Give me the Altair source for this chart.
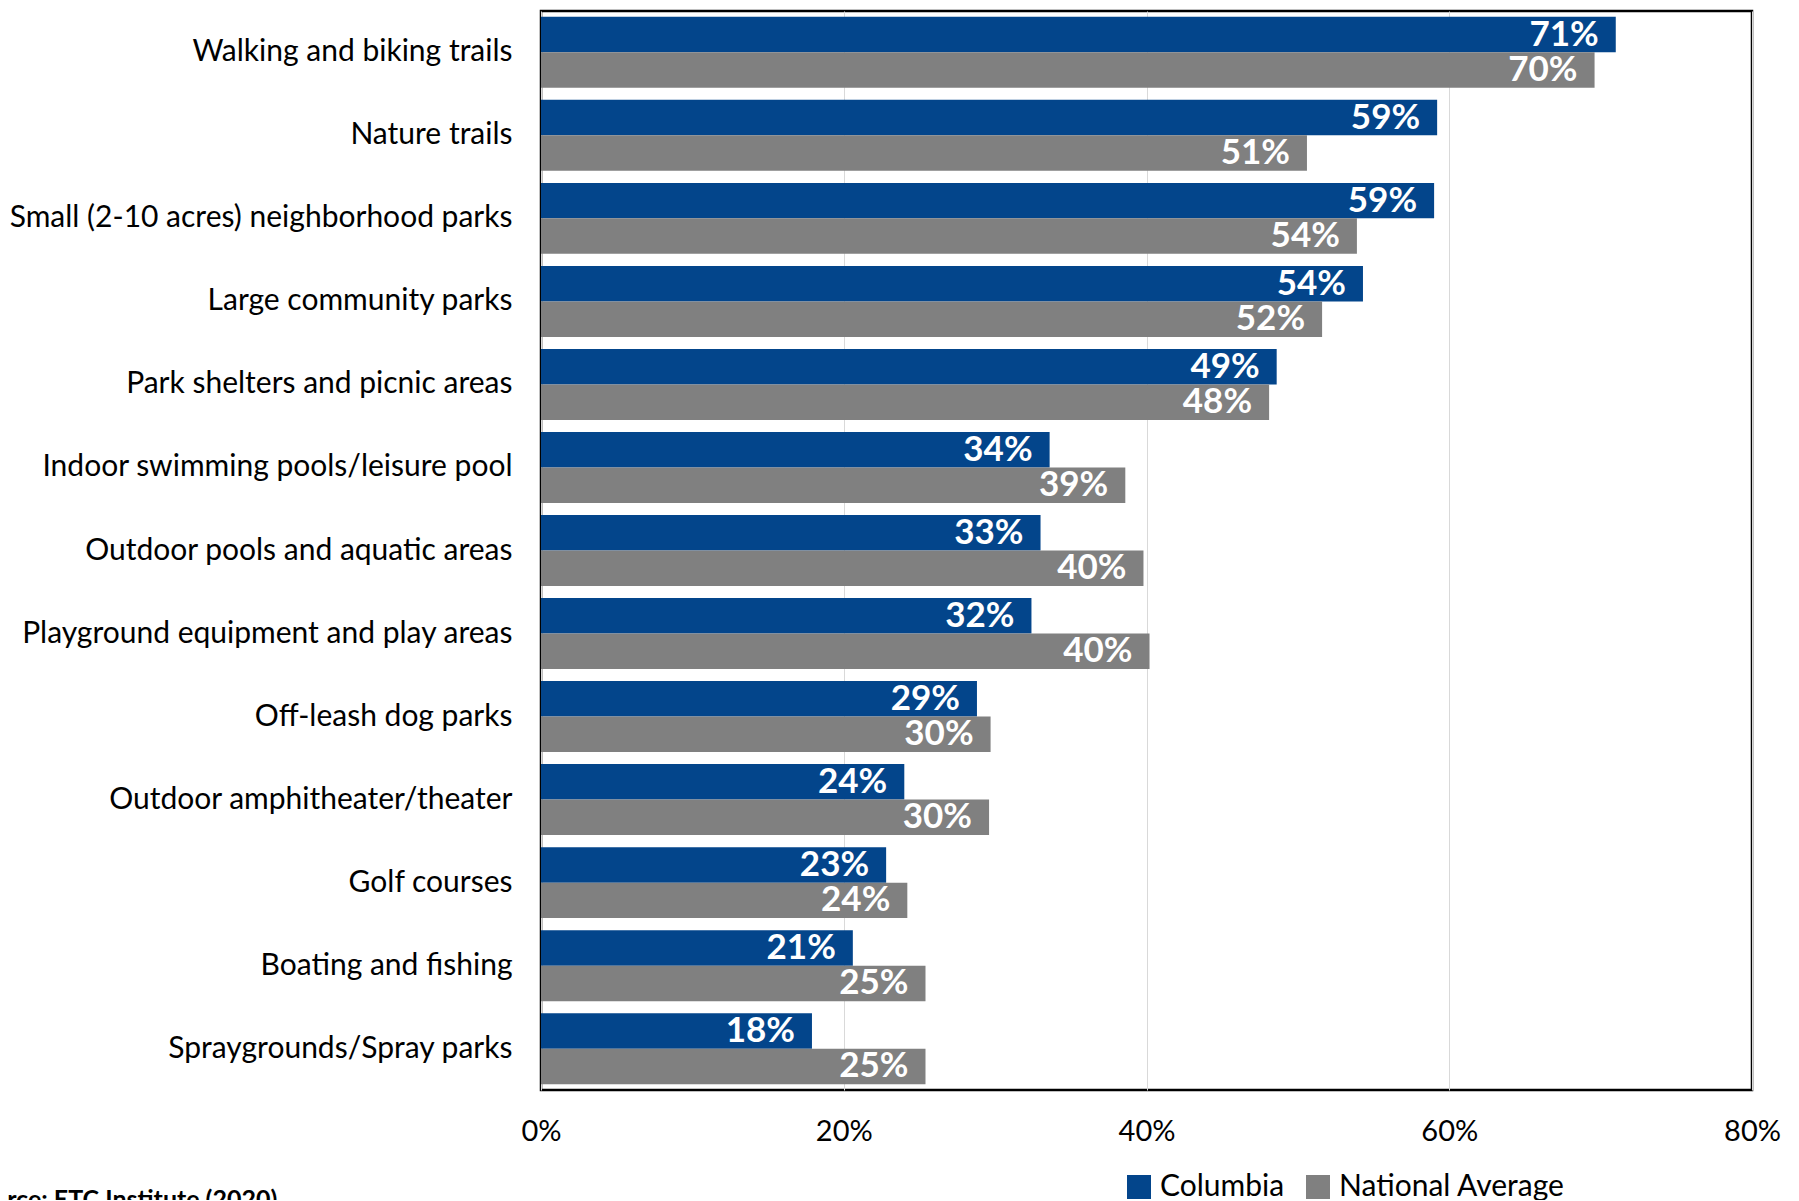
import altair as alt
import pandas as pd

categories = [
    "Walking and biking trails",
    "Nature trails",
    "Small (2-10 acres) neighborhood parks",
    "Large community parks",
    "Park shelters and picnic areas",
    "Indoor swimming pools/leisure pool",
    "Outdoor pools and aquatic areas",
    "Playground equipment and play areas",
    "Off-leash dog parks",
    "Outdoor amphitheater/theater",
    "Golf courses",
    "Boating and fishing",
    "Spraygrounds/Spray parks",
]
columbia = [71.0, 59.2, 59.0, 54.3, 48.6, 33.6, 33.0, 32.4, 28.8, 24.0, 22.8, 20.6, 17.9]
national = [69.6, 50.6, 53.9, 51.6, 48.1, 38.6, 39.8, 40.2, 29.7, 29.6, 24.2, 25.4, 25.4]
series = ["Columbia", "National Average"]
colors = ["#03458b", "#808080"]
x_ticks = [0, 20, 40, 60, 80]
source_note = "Source:  ETC Institute (2020)"

rows = []
for c, a, b in zip(categories, columbia, national):
    rows.append({"category": c, "series": series[0], "value": a})
    rows.append({"category": c, "series": series[1], "value": b})
df = pd.DataFrame(rows)

FONT = "Lato"

y_enc = alt.Y(
    "category:N",
    sort=categories,
    title=None,
    scale=alt.Scale(paddingInner=0.145, paddingOuter=0.07),
    axis=alt.Axis(
        domain=False, ticks=False, grid=False, labelPadding=29,
        labelFont=FONT, labelFontSize=30, labelColor="black", labelLimit=800,
    ),
)
yoff_enc = alt.YOffset(
    "series:N", sort=series, scale=alt.Scale(paddingInner=0, paddingOuter=0)
)
x_enc = alt.X(
    "value:Q",
    title=None,
    scale=alt.Scale(domain=[0, 80], nice=False),
    axis=alt.Axis(
        values=x_ticks, labelExpr="datum.value + '%'", domain=False, ticks=False,
        grid=True, gridColor="#d9d9d9", gridWidth=1, labelPadding=27,
        labelFlush=False,
        labelFont=FONT, labelFontSize=29, labelColor="black",
    ),
)
color_enc = alt.Color(
    "series:N",
    scale=alt.Scale(domain=series, range=colors),
    legend=alt.Legend(
        orient="none", legendX=583, legendY=1161, direction="horizontal",
        title=None, symbolType="square", symbolSize=576, symbolStrokeWidth=0,
        labelFont=FONT, labelFontSize=30, labelColor="black", labelLimit=600,
        columnPadding=18, labelOffset=6,
    ),
)

base = alt.Chart(df)
bars = base.mark_bar().encode(x=x_enc, y=y_enc, yOffset=yoff_enc, color=color_enc)
labels = base.transform_calculate(
    label="format(datum.value, '.0f') + '%'"
).mark_text(
    align="right", baseline="middle", dx=-17, color="white",
    font=FONT, fontWeight="bold", fontSize=35,
).encode(
    x="value:Q",
    y=alt.Y("category:N", sort=categories),
    yOffset=alt.YOffset("series:N", sort=series),
    text="label:N",
)
note = alt.Chart(pd.DataFrame({"t": [source_note]})).mark_text(
    align="left", baseline="top", font=FONT, fontWeight="bold", fontSize=25, color="black"
).encode(x=alt.value(-576), y=alt.value(1177), text="t:N")

chart = alt.layer(bars, labels, note).properties(
    width=1211,
    height=1079,
    autosize=alt.AutoSizeParams(type="none"),
    padding={"left": 533, "top": 3, "right": 39, "bottom": 110},
    background="white",
).configure_view(stroke="black", strokeWidth=2.5)

chart.save("out.html", embed_options={"renderer": "svg", "actions": False})
